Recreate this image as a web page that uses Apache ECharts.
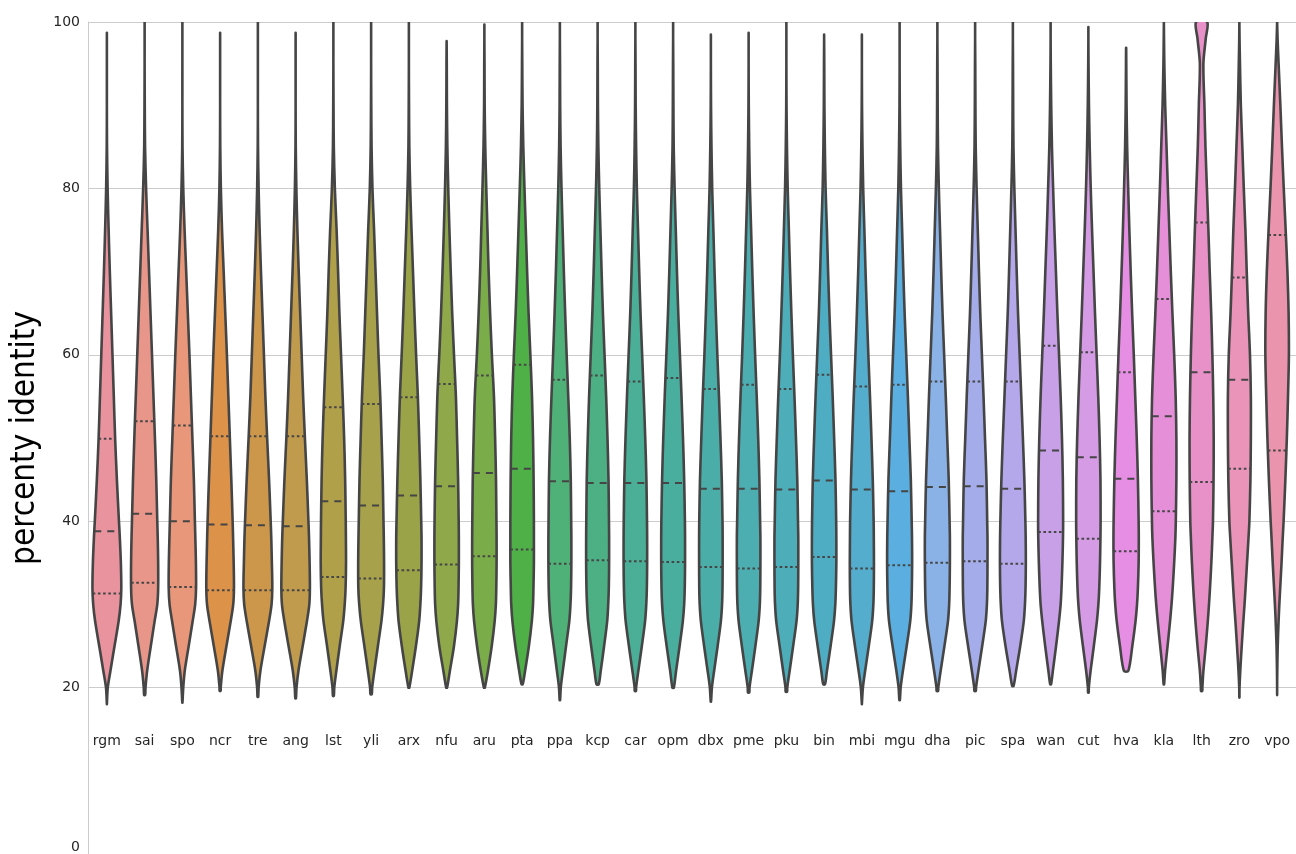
<!DOCTYPE html>
<html>
<head>
<meta charset="utf-8">
<script src="https://cdn.jsdelivr.net/npm/echarts@6/dist/echarts.min.js"></script>
<style>html,body{margin:0;padding:0;background:#fff}#chart{width:1296px;height:854px}</style>
</head>
<body>
<div id="chart"></div>
<script>
// ---- data ----
const categories = ['rgm','sai','spo','ncr','tre','ang','lst','yli','arx','nfu','aru','pta','ppa','kcp','car','opm',
  'dbx','pme','pku','bin','mbi','mgu','dha','pic','spa','wan','cut','hva','kla','lth','zro','vpo'];

const minVals = [18.0,19.1,18.2,19.6,18.9,18.7,19.0,19.2,20.0,20.0,20.0,20.4,18.5,20.4,19.6,20.0,
  18.3,19.4,19.5,20.4,18.0,18.5,19.6,19.6,20.2,20.4,19.4,22.0,20.4,19.6,18.8,19.1];
const maxVals = [98.7,100,100,98.7,100,98.7,100,100,100,97.7,99.7,100,100,100,100,100,
  98.5,98.7,100,98.5,98.5,100,100,100,100,100,99.4,96.9,100,100,100,100];
const q1Vals = [31.3,32.6,32.1,31.7,31.7,31.7,33.3,33.1,34.1,34.8,35.8,36.6,34.9,35.3,35.2,35.1,
  34.5,34.3,34.5,35.7,34.3,34.7,35.0,35.2,34.9,38.7,37.9,36.4,41.2,44.7,46.3,48.5];
// vpo: no median line is visible in the picture
const medianVals = [38.8,40.9,40.0,39.6,39.5,39.4,42.4,41.9,43.1,44.2,45.8,46.3,44.8,44.6,44.6,44.6,
  43.9,43.9,43.8,44.9,43.8,43.6,44.1,44.2,43.9,48.5,47.7,45.1,52.6,57.9,57.0,null];
const q3Vals = [49.9,52.0,51.5,50.2,50.2,50.2,53.7,54.1,54.9,56.5,57.5,58.8,57.0,57.5,56.8,57.2,
  55.9,56.4,55.9,57.6,56.2,56.4,56.8,56.8,56.8,61.1,60.3,57.9,66.7,75.9,69.3,74.4];

// relative violin width (1 = widest) read at these percent-identity levels
const densityLevels = [18,20,22,25,28,30,32,35,38,40,45,50,55,60,65,70,75,80,85,90,95,98,100];
const densityWidths = [
  [0,0.06,0.24,0.52,0.80,0.93,0.98,0.95,0.88,0.82,0.68,0.56,0.47,0.38,0.29,0.20,0.12,0.05,0.01,0,0,0,0],   // rgm
  [0,0.06,0.17,0.42,0.68,0.86,0.92,0.92,0.89,0.86,0.79,0.70,0.60,0.50,0.40,0.30,0.20,0.10,0.03,0.01,0,0,0],// sai
  [0,0.06,0.16,0.43,0.70,0.87,0.93,0.92,0.88,0.85,0.78,0.68,0.58,0.48,0.37,0.26,0.15,0.06,0.01,0,0,0,0],   // spo
  [0,0.04,0.15,0.43,0.72,0.89,0.94,0.92,0.88,0.85,0.76,0.66,0.56,0.46,0.35,0.24,0.13,0.05,0.01,0,0,0,0],   // ncr
  [0,0.05,0.17,0.46,0.76,0.93,0.98,0.95,0.91,0.87,0.76,0.63,0.51,0.41,0.31,0.21,0.12,0.05,0.01,0,0,0,0],   // tre
  [0,0.06,0.19,0.48,0.77,0.93,0.97,0.95,0.91,0.87,0.76,0.63,0.51,0.41,0.31,0.21,0.12,0.05,0.01,0,0,0,0],   // ang
  [0,0.06,0.20,0.43,0.67,0.77,0.83,0.86,0.85,0.84,0.80,0.73,0.63,0.52,0.41,0.32,0.22,0.10,0.03,0.01,0,0,0],// lst
  [0,0.07,0.22,0.46,0.70,0.81,0.87,0.88,0.86,0.84,0.79,0.71,0.62,0.50,0.40,0.30,0.20,0.09,0.03,0.01,0,0,0],// yli
  [0,0.03,0.22,0.48,0.70,0.78,0.83,0.86,0.86,0.84,0.78,0.70,0.61,0.49,0.38,0.28,0.18,0.09,0.03,0.01,0,0,0],// arx
  [0,0.03,0.22,0.50,0.70,0.78,0.81,0.83,0.83,0.82,0.78,0.71,0.63,0.50,0.38,0.28,0.19,0.11,0.05,0.02,0.01,0,0], // nfu
  [0,0.03,0.24,0.50,0.70,0.78,0.81,0.83,0.83,0.82,0.79,0.73,0.65,0.51,0.39,0.29,0.21,0.13,0.06,0.02,0.01,0,0], // aru
  [0,0,0.20,0.46,0.66,0.74,0.77,0.80,0.80,0.80,0.78,0.74,0.67,0.56,0.44,0.34,0.25,0.16,0.08,0.03,0.01,0,0],    // pta
  [0,0.06,0.20,0.42,0.64,0.72,0.76,0.78,0.78,0.77,0.74,0.67,0.57,0.46,0.36,0.27,0.19,0.11,0.05,0.02,0.01,0,0], // ppa
  [0,0.04,0.21,0.44,0.65,0.72,0.76,0.78,0.78,0.77,0.74,0.67,0.58,0.47,0.36,0.27,0.19,0.11,0.05,0.02,0.01,0,0], // kcp
  [0,0.05,0.20,0.44,0.66,0.74,0.78,0.80,0.80,0.79,0.75,0.67,0.57,0.46,0.35,0.26,0.18,0.10,0.05,0.02,0.01,0,0], // car
  [0,0.05,0.20,0.44,0.66,0.75,0.79,0.81,0.81,0.80,0.75,0.67,0.57,0.46,0.35,0.26,0.18,0.10,0.04,0.02,0.01,0,0], // opm
  [0,0.07,0.22,0.46,0.68,0.76,0.79,0.80,0.80,0.79,0.74,0.65,0.55,0.44,0.34,0.25,0.17,0.09,0.04,0.01,0,0,0],    // dbx
  [0,0.06,0.22,0.46,0.68,0.76,0.79,0.80,0.80,0.78,0.73,0.65,0.55,0.44,0.34,0.25,0.17,0.09,0.04,0.01,0,0,0],    // pme
  [0,0.06,0.22,0.46,0.69,0.77,0.80,0.81,0.81,0.79,0.74,0.65,0.55,0.44,0.34,0.25,0.17,0.09,0.04,0.01,0,0,0],    // pku
  [0,0.03,0.19,0.44,0.67,0.76,0.80,0.83,0.83,0.82,0.77,0.68,0.58,0.47,0.36,0.27,0.19,0.10,0.05,0.02,0.01,0,0], // bin
  [0,0.07,0.22,0.47,0.70,0.78,0.81,0.82,0.81,0.80,0.74,0.65,0.55,0.44,0.34,0.25,0.17,0.09,0.04,0.01,0,0,0],    // mbi
  [0,0.07,0.22,0.48,0.72,0.80,0.83,0.85,0.84,0.82,0.76,0.66,0.56,0.45,0.34,0.25,0.17,0.09,0.04,0.01,0,0,0],    // mgu
  [0,0.06,0.22,0.48,0.72,0.80,0.83,0.85,0.85,0.83,0.77,0.67,0.57,0.46,0.35,0.26,0.18,0.10,0.04,0.02,0.01,0,0], // dha
  [0,0.06,0.22,0.48,0.72,0.80,0.83,0.84,0.84,0.82,0.77,0.67,0.57,0.46,0.35,0.26,0.18,0.10,0.04,0.02,0.01,0,0], // pic
  [0,0.03,0.22,0.50,0.74,0.82,0.86,0.88,0.87,0.85,0.78,0.68,0.57,0.46,0.35,0.26,0.18,0.10,0.04,0.02,0.01,0,0], // spa
  [0,0,0.15,0.37,0.57,0.68,0.74,0.80,0.84,0.85,0.83,0.77,0.68,0.57,0.46,0.36,0.26,0.17,0.09,0.04,0.01,0,0],    // wan
  [0,0.03,0.15,0.37,0.58,0.68,0.74,0.79,0.82,0.83,0.82,0.76,0.67,0.56,0.45,0.35,0.25,0.16,0.09,0.04,0.01,0,0], // cut
  [0,0,0.15,0.42,0.64,0.74,0.80,0.85,0.86,0.85,0.80,0.72,0.62,0.52,0.41,0.31,0.22,0.14,0.07,0.03,0.01,0,0],    // hva
  [0,0,0.08,0.25,0.42,0.52,0.60,0.70,0.78,0.81,0.85,0.85,0.80,0.70,0.58,0.47,0.37,0.27,0.18,0.09,0.03,0.01,0], // kla
  [0,0.05,0.12,0.28,0.42,0.50,0.57,0.66,0.73,0.77,0.81,0.82,0.79,0.73,0.65,0.55,0.46,0.36,0.26,0.19,0.12,0.28,0.38], // lth
  [0,0.01,0.06,0.16,0.27,0.35,0.42,0.52,0.62,0.68,0.75,0.78,0.78,0.72,0.60,0.50,0.41,0.30,0.20,0.10,0.04,0.01,0],   // zro
  [0,0,0.01,0.04,0.10,0.15,0.21,0.30,0.38,0.44,0.56,0.66,0.74,0.80,0.78,0.70,0.58,0.45,0.33,0.22,0.10,0.03,0]        // vpo
];

const violinColors = ['#e8939e','#e8968a','#e8977a','#dd9249','#cc974b','#c09b4e','#b0a04a','#a6a14a',
  '#9aa347','#8ea84a','#7aac4a','#50b048','#4fb178','#4cb084','#4aaf96','#4aae9f',
  '#4bada7','#4caeb0','#4dadb9','#4eadc3','#54adcc','#5aafe0','#8ab2e6','#a4ace9',
  '#b5a8ea','#c8a0e8','#d59be4','#e68de4','#e68fd9','#e891c8','#e994b8','#ea95ad'];

const yAxisTitle = 'percenty identity';

// ---- drawing ----
function widthAt(row, y) {
  const L = densityLevels;
  if (y <= L[0]) return row[0];
  if (y >= L[L.length - 1]) return row[L.length - 1];
  for (let k = 1; k < L.length; k++) {
    if (y <= L[k]) {
      const t = (y - L[k - 1]) / (L[k] - L[k - 1]);
      return row[k - 1] + t * (row[k] - row[k - 1]);
    }
  }
  return 0;
}

function profile(i) {
  const lo = minVals[i], hi = maxVals[i], row = densityWidths[i];
  const pts = [[lo, widthAt(row, lo)]];
  densityLevels.forEach((y, k) => { if (y > lo && y < hi) pts.push([y, row[k]]); });
  pts.push([hi, widthAt(row, hi)]);
  return pts;
}

const OUTLINE = '#454545';

function renderViolin(params, api) {
  const i = api.value(0);
  const band = api.size([1, 0])[0];
  const half = band * 0.39;
  const cx = api.coord([i, 0])[0];
  const pts = profile(i);
  const right = pts.map(p => [cx + p[1] * half, api.coord([i, p[0]])[1]]);
  const left = pts.slice().reverse().map(p => [cx - p[1] * half, api.coord([i, p[0]])[1]]);
  const children = [{
    type: 'polygon',
    shape: { points: right.concat(left), smooth: 0.3 },
    style: { fill: violinColors[i], stroke: OUTLINE, lineWidth: 2.6, lineJoin: 'round' }
  }];
  const row = densityWidths[i];
  [[q1Vals[i], [2.6, 2.6]], [medianVals[i], [7, 6]], [q3Vals[i], [2.6, 2.6]]].forEach(([q, dash]) => {
    if (q == null) return;
    const hw = widthAt(row, q) * half;
    const y = api.coord([i, q])[1];
    children.push({
      type: 'line',
      shape: { x1: cx - hw, y1: y, x2: cx + hw, y2: y },
      style: { stroke: OUTLINE, lineWidth: 2, lineDash: dash }
    });
  });
  return { type: 'group', children };
}

const chart = echarts.init(document.getElementById('chart'), null, { renderer: 'canvas' });
chart.setOption({
  animation: false,
  backgroundColor: '#ffffff',
  grid: { left: 88, right: 0, top: 22, bottom: -1, containLabel: false },
  xAxis: {
    type: 'category',
    data: categories,
    boundaryGap: true,
    axisLine: { show: false },
    axisTick: { show: false },
    splitLine: { show: false },
    axisLabel: {
      interval: 0, margin: -113, verticalAlign: 'middle',
      color: '#262626', fontSize: 14, fontFamily: 'DejaVu Sans'
    }
  },
  yAxis: {
    type: 'value', min: 0, max: 100, interval: 20,
    name: yAxisTitle, nameLocation: 'middle', nameRotate: 90, nameGap: 42,
    nameTextStyle: { fontSize: 33, fontFamily: '"DejaVu Sans Condensed", "Liberation Sans Narrow", "DejaVu Sans"', color: '#000000' },
    axisLine: { show: true, lineStyle: { color: '#cccccc', width: 1 } },
    axisTick: { show: false },
    splitLine: { show: true, lineStyle: { color: '#cccccc', width: 1 } },
    axisLabel: {
      margin: 8, color: '#262626', fontSize: 14, fontFamily: 'DejaVu Sans',
      formatter: v => (v === 0 ? '{z|0}' : String(v)),
      rich: { z: { fontSize: 14, fontFamily: 'DejaVu Sans', color: '#262626', padding: [0, 0, 14, 0] } }
    }
  },
  series: [{
    type: 'custom',
    renderItem: renderViolin,
    clip: true,
    encode: { x: 0, y: 1 },
    data: categories.map((c, i) => [i, q1Vals[i]])
  }]
});
</script>
</body>
</html>
